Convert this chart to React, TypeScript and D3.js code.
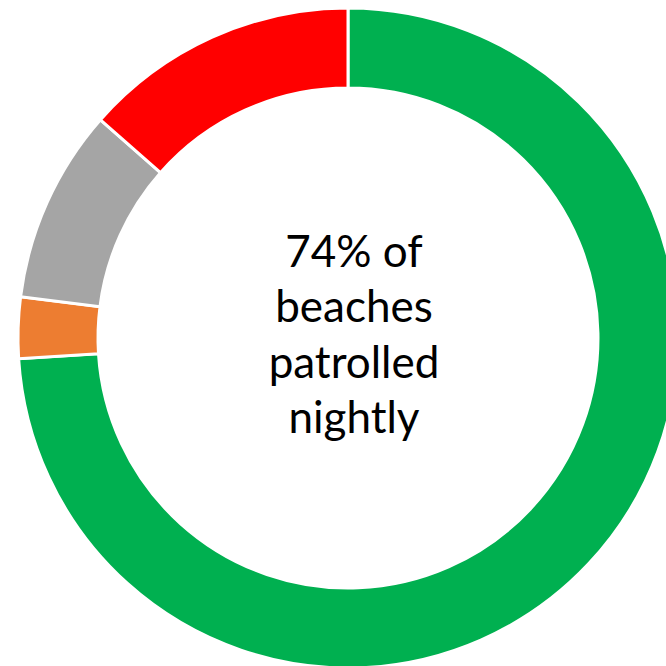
import React, { useRef, useEffect } from "react";
import * as d3 from "d3";

const categories = ["Nightly", "Other A", "Other B", "Not patrolled"];
const values = [74, 3, 9.5, 13.5];
const colors = ["#00B050", "#ED7D31", "#A5A5A5", "#FF0000"];
const labelLines = ["74% of", "beaches", "patrolled", "nightly"];

export default function App() {
  const ref = useRef<SVGSVGElement>(null);

  useEffect(() => {
    const width = 666;
    const height = 666;
    const cx = 348;
    const cy = 338;
    const outer = 330;
    const inner = 250;

    const svg = d3.select(ref.current);
    svg.selectAll("*").remove();

    const pie = d3
      .pie<number>()
      .sort(null)
      .value((d) => d);
    const arc = d3.arc<d3.PieArcDatum<number>>().innerRadius(inner).outerRadius(outer);

    const g = svg.append("g").attr("transform", `translate(${cx},${cy})`);

    g.selectAll("path")
      .data(pie(values))
      .join("path")
      .attr("d", arc)
      .attr("fill", (d, i) => colors[i])
      .attr("stroke", "#fff")
      .attr("stroke-width", 3)
      .append("title")
      .text((d, i) => `${categories[i]}: ${values[i]}%`);

    // centre label
    const y = d3.scaleLinear().domain([0, labelLines.length - 1]).range([267, 433]);
    svg
      .append("g")
      .attr("text-anchor", "middle")
      .style("font-family", "Lato, 'Open Sans', sans-serif")
      .style("font-size", "44px")
      .attr("fill", "#000")
      .selectAll("text")
      .data(labelLines)
      .join("text")
      .attr("x", 354)
      .attr("y", (d, i) => y(i))
      .text((d) => d);

    svg.attr("width", width).attr("height", height);
  }, []);

  return (
    <svg
      ref={ref}
      width={666}
      height={666}
      style={{ position: "fixed", left: 0, top: 0, background: "#fff" }}
    />
  );
}
